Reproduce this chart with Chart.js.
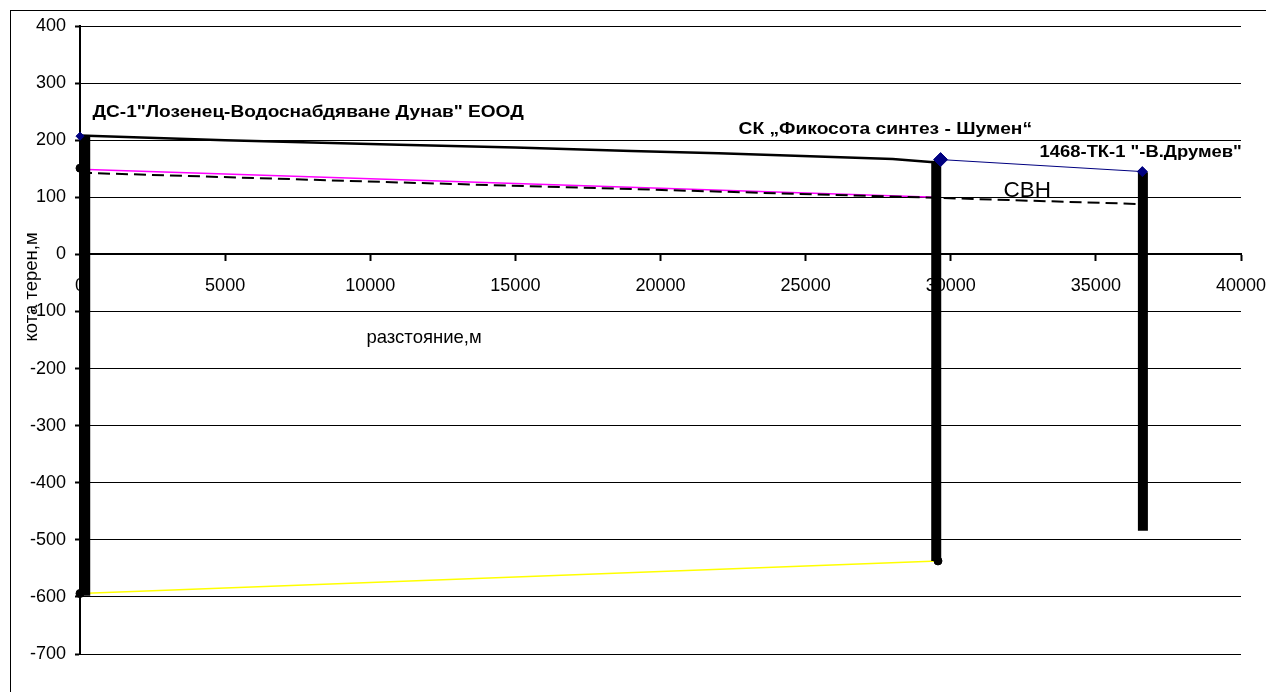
<!DOCTYPE html>
<html>
<head>
<meta charset="utf-8">
<script src="https://cdn.jsdelivr.net/npm/chart.js@4"></script>
<style>
  html, body { margin: 0; padding: 0; background: #fff; }
  #wrap { width: 1266px; height: 692px; position: relative; }
</style>
</head>
<body>
<div id="wrap"><canvas id="c" width="1266" height="692"></canvas></div>
<script>
// Разстояние по трасето (м) и коти (м)
const terrainDist = [0, 5000, 11000, 15000, 19000, 22000, 26200, 28000, 29300, 29500];
const terrainElev = [208, 200, 192, 187, 181, 177, 170, 167, 162, 162];

const branchDist = [0, 15000, 29650, 36600];
const branchElev = [207, null, 166, 145];

const pinkDist = [0, 15000, 29500];
const pinkElev = [149, 124, 100];

const dashDist = [0, 11000, 29500, 36600];
const dashElev = [143, 126, 99, 88];

const yellowDist = [0, 29550];
const yellowElev = [-594, -537];

const wellDist = [180, 29500, 36620];
const wellTop = [208, 163, 144];
const wellBottom = [-598, -537, -484];

const nodeDist = [0, 0, 29560];
const nodeElev = [151, -594, -537];

const xTickValues = [0, 5000, 10000, 15000, 20000, 25000, 30000, 35000, 40000];
const yTickValues = [-700, -600, -500, -400, -300, -200, -100, 0, 100, 200, 300, 400];

const siteNames = ['ДС-1"Лозенец-Водоснабдяване Дунав" ЕООД', 'СК „Фикосота синтез - Шумен“', '1468-ТК-1 "-В.Друмев"'];
const pipeName = 'СВН';
const xTitle = 'разстояние,м';
const yTitle = 'кота терен,м';

const FONT = '"Liberation Sans", Arial, sans-serif';

function pts(xs, ys) { return xs.map((x, i) => ({ x: x, y: ys[i] })); }

const wellSets = wellDist.map((d, i) => ({
  data: [{ x: d, y: wellTop[i] }, { x: d, y: wellBottom[i] }],
  borderColor: '#000', borderWidth: 10, borderCapStyle: 'butt',
  pointRadius: 0, clip: false
}));

// Надписи, закотвени в координатите на графиката (sx – хоризонтално разтягане)
const notes = [
  { text: siteNames[0], x: 430, y: 248, font: 'bold 16px ' + FONT, sx: 1.19 },
  { text: siteNames[1], x: 22690, y: 218, font: 'bold 16px ' + FONT, sx: 1.2 },
  { text: siteNames[2], x: 33060, y: 178, font: 'bold 16px ' + FONT, sx: 1.15 },
  { text: pipeName, x: 31820, y: 112, font: '22.5px ' + FONT, sx: 1 },
  { text: xTitle, x: 9870, y: -146, font: '18.5px ' + FONT, sx: 1 }
];

const decor = {
  id: 'decor',
  beforeDraw(chart) {
    const c = chart.ctx;
    c.save();
    c.fillStyle = '#fff';
    c.fillRect(0, 0, chart.width, chart.height);
    c.strokeStyle = '#000';
    c.lineWidth = 1;
    c.strokeRect(10.5, 10.5, chart.width + 20, chart.height + 20);
    c.restore();
  },
  afterDatasetsDraw(chart) {
    const c = chart.ctx, xs = chart.scales.x, ys = chart.scales.y;
    c.save();
    c.fillStyle = '#000';
    c.textBaseline = 'middle';
    c.textAlign = 'left';
    notes.forEach(n => {
      c.save();
      c.font = n.font;
      c.translate(xs.getPixelForValue(n.x), ys.getPixelForValue(n.y));
      c.scale(n.sx, 1);
      c.fillText(n.text, 0, 0);
      c.restore();
    });
    c.translate(chart.chartArea.left - 48, ys.getPixelForValue(-57));
    c.rotate(-Math.PI / 2);
    c.font = '18.5px ' + FONT;
    c.textAlign = 'center';
    c.fillText(yTitle, 0, 0);
    c.restore();
  }
};

new Chart(document.getElementById('c'), {
  type: 'line',
  data: {
    datasets: [
      { data: pts(branchDist, branchElev), borderColor: '#000080', backgroundColor: '#000080',
        borderWidth: 1, pointStyle: 'rectRot', pointRadius: [4, 0, 7, 5], spanGaps: false, clip: false },
      { data: pts(nodeDist, nodeElev), showLine: false, pointRadius: 4,
        backgroundColor: '#000', borderColor: '#000', clip: false },
      ...wellSets,
      { data: pts(terrainDist, terrainElev), borderColor: '#000', borderWidth: 2.5, pointRadius: 0, clip: false },
      { data: pts(yellowDist, yellowElev), borderColor: '#ffff00', borderWidth: 1.5, pointRadius: 0, clip: false },
      { data: pts(dashDist, dashElev), borderColor: '#000', borderWidth: 2, borderDash: [12, 6], pointRadius: 0, clip: false },
      { data: pts(pinkDist, pinkElev), borderColor: '#ff00ff', borderWidth: 1.5, pointRadius: 0, clip: false }
    ]
  },
  options: {
    responsive: false,
    animation: false,
    devicePixelRatio: 1,
    layout: { padding: { left: 0, top: 26, right: 25, bottom: 38 } },
    plugins: { legend: { display: false }, tooltip: { enabled: false } },
    elements: { line: { tension: 0 } },
    scales: {
      x: {
        type: 'linear',
        position: { y: 0 },
        min: xTickValues[0], max: xTickValues[xTickValues.length - 1],
        afterBuildTicks(s) { s.ticks = xTickValues.map(v => ({ value: v })); },
        afterFit(s) { s.paddingLeft = 0; s.paddingRight = 0; },
        ticks: { color: '#000', font: { family: FONT, size: 18 }, padding: 15, maxRotation: 0, autoSkip: false,
                 callback: v => String(v) },
        grid: { drawOnChartArea: false, drawTicks: true, tickLength: 6, color: '#000', tickWidth: 2 },
        border: { display: true, color: '#000', width: 2 }
      },
      y: {
        type: 'linear',
        position: 'left',
        min: yTickValues[0], max: yTickValues[yTickValues.length - 1],
        afterBuildTicks(s) { s.ticks = yTickValues.map(v => ({ value: v })); },
        afterFit(s) { s.width = 80; s.paddingTop = 0; s.paddingBottom = 0; },
        ticks: { color: '#000', font: { family: FONT, size: 18 }, padding: 9, callback: v => String(v) },
        grid: { color: '#000', lineWidth: 1, tickLength: 5, tickWidth: 2 },
        border: { display: true, color: '#000', width: 2 }
      }
    }
  },
  plugins: [decor]
});
</script>
</body>
</html>
